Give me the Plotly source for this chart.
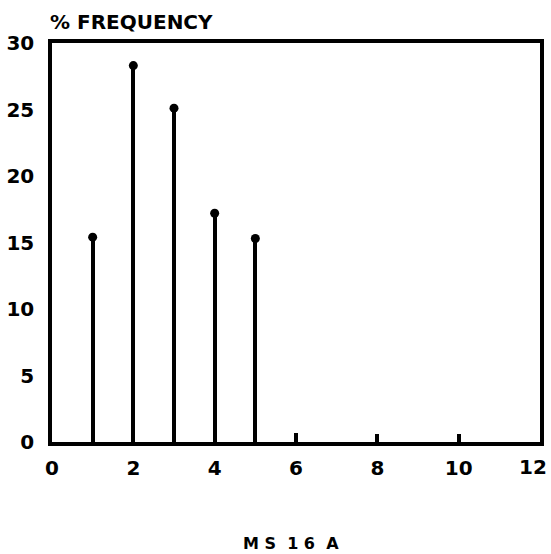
import plotly.graph_objects as go

x_vals = [1, 2, 3, 4, 5, 6, 8, 10]
freq = [15.4, 28.3, 25.1, 17.2, 15.3, 0.7, 0.6, 0.6]
dot_x = [1, 2, 3, 4, 5]
dot_y = [15.4, 28.3, 25.1, 17.2, 15.3]
x_ticks = [0, 2, 4, 6, 8, 10, 12]
y_ticks = [0, 5, 10, 15, 20, 25, 30]

FONT = "DejaVu Sans"
NB = "\u00a0"

fig = go.Figure()
fig.add_trace(go.Bar(x=x_vals, y=freq, width=0.095, marker=dict(color="black", line=dict(width=0))))
fig.add_trace(go.Scatter(x=dot_x, y=dot_y, mode="markers",
                         marker=dict(color="black", size=9)))

# last x tick label is drawn as an annotation so it stays inside the page
x_text = [str(v) for v in x_ticks[:-1]] + [""]

fig.update_layout(
    template="none",
    width=551, height=554,
    margin=dict(l=52, r=11, t=43, b=112),
    plot_bgcolor="white", paper_bgcolor="white",
    showlegend=False,
    font=dict(family=FONT, color="black", size=20, weight="bold"),
    xaxis=dict(range=[0, 12], tickvals=x_ticks, ticktext=x_text,
               showgrid=False, zeroline=False, showline=True, mirror=True,
               linecolor="black", linewidth=3.5, ticks="", ticklabelstandoff=5,
               automargin=False, ticklabeloverflow="allow",
               tickfont=dict(family=FONT, size=20, weight="bold")),
    yaxis=dict(range=[0, 30], tickvals=y_ticks, ticktext=[str(v) for v in y_ticks],
               showgrid=False, zeroline=False, showline=True, mirror=True,
               linecolor="black", linewidth=3.5, ticks="", ticklabelstandoff=10,
               automargin=False, ticklabeloverflow="allow",
               tickfont=dict(family=FONT, size=20, weight="bold")),
    bargap=0,
)

fig.add_annotation(text=str(x_ticks[-1]), xref="x", yref="paper", x=x_ticks[-1], y=0,
                   xanchor="right", yanchor="middle", showarrow=False, xshift=9, yshift=-25,
                   font=dict(family=FONT, size=20, weight="bold"))
fig.add_annotation(text="%" + NB + "FREQUENCY", xref="paper", yref="paper", x=0.0, y=1.0,
                   xanchor="left", yanchor="middle", showarrow=False, yshift=21, xshift=-4,
                   font=dict(family=FONT, size=20, weight="bold"))
fig.add_annotation(text="M" + NB + "S" + NB + NB + "1" + NB + "6" + NB + NB + "A",
                   xref="paper", yref="paper", x=(291 - 52) / 488, y=0.0,
                   xanchor="center", yanchor="middle", showarrow=False, yshift=-101,
                   font=dict(family=FONT, size=16, weight="bold"))

fig.write_html("out.html")
